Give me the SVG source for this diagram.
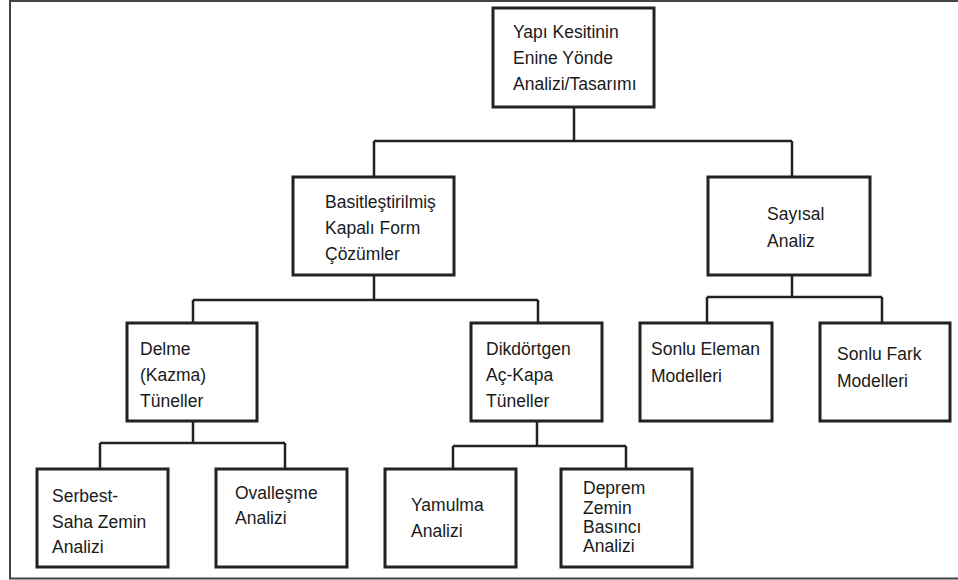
<svg xmlns="http://www.w3.org/2000/svg" width="958" height="580" viewBox="0 0 958 580">
<style>
.box{fill:#fff;stroke:#222;stroke-width:3}
.ln{fill:none;stroke:#222;stroke-width:2.5}
.frame{fill:none;stroke:#444;stroke-width:2}
text{font-family:"Liberation Sans",Arial,sans-serif;font-size:17.5px;fill:#1a1a1a}
</style>
<rect width="958" height="580" fill="#fff"/>
<path class="frame" d="M958,1 H10 V578.5 H958"/>
<g id="connectors">
<path class="ln" d="M574,107 V141 M374,141 H792 M374,141 V177 M792,141 V177"/>
<path class="ln" d="M374,275 V300 M193,300 H538 M193,300 V323 M538,300 V323"/>
<path class="ln" d="M792,275 V297 M707,297 H882 M707,297 V323 M882,297 V323"/>
<path class="ln" d="M193,421 V443 M100,443 H285 M100,443 V469 M285,443 V469"/>
<path class="ln" d="M537,421 V446 M453,446 H626 M453,446 V469 M626,446 V469"/>
</g>
<g id="n-top"><rect class="box" x="493" y="8" width="161" height="99"/>
<text x="513" y="38">Yapı Kesitinin</text><text x="513" y="64">Enine Yönde</text><text x="513" y="90">Analizi/Tasarımı</text></g>
<g id="n-basit"><rect class="box" x="293" y="177" width="161" height="98"/>
<text x="325" y="208">Basitleştirilmiş</text><text x="325" y="234">Kapalı Form</text><text x="325" y="260">Çözümler</text></g>
<g id="n-sayisal"><rect class="box" x="708" y="177" width="162" height="98"/>
<text x="767" y="220">Sayısal</text><text x="767" y="247">Analiz</text></g>
<g id="n-delme"><rect class="box" x="127" y="323" width="130" height="98"/>
<text x="140" y="355">Delme</text><text x="140" y="381">(Kazma)</text><text x="140" y="407">Tüneller</text></g>
<g id="n-dik"><rect class="box" x="471" y="323" width="131" height="98"/>
<text x="486" y="355">Dikdörtgen</text><text x="486" y="381">Aç-Kapa</text><text x="486" y="407">Tüneller</text></g>
<g id="n-eleman"><rect class="box" x="640" y="323" width="132" height="98"/>
<text x="651" y="355">Sonlu Eleman</text><text x="651" y="382">Modelleri</text></g>
<g id="n-fark"><rect class="box" x="820" y="323" width="130" height="98"/>
<text x="837" y="360">Sonlu Fark</text><text x="837" y="387">Modelleri</text></g>
<g id="n-serbest"><rect class="box" x="37" y="469" width="131" height="98"/>
<text x="52" y="502">Serbest-</text><text x="52" y="528">Saha Zemin</text><text x="52" y="553">Analizi</text></g>
<g id="n-oval"><rect class="box" x="216" y="469" width="131" height="98"/>
<text x="235" y="499">Ovalleşme</text><text x="235" y="524">Analizi</text></g>
<g id="n-yamulma"><rect class="box" x="385" y="469" width="131" height="98"/>
<text x="411" y="511">Yamulma</text><text x="411" y="537">Analizi</text></g>
<g id="n-deprem"><rect class="box" x="561" y="469" width="131" height="98"/>
<text x="583" y="494">Deprem</text><text x="583" y="514">Zemin</text><text x="583" y="533">Basıncı</text><text x="583" y="552">Analizi</text></g>
</svg>
